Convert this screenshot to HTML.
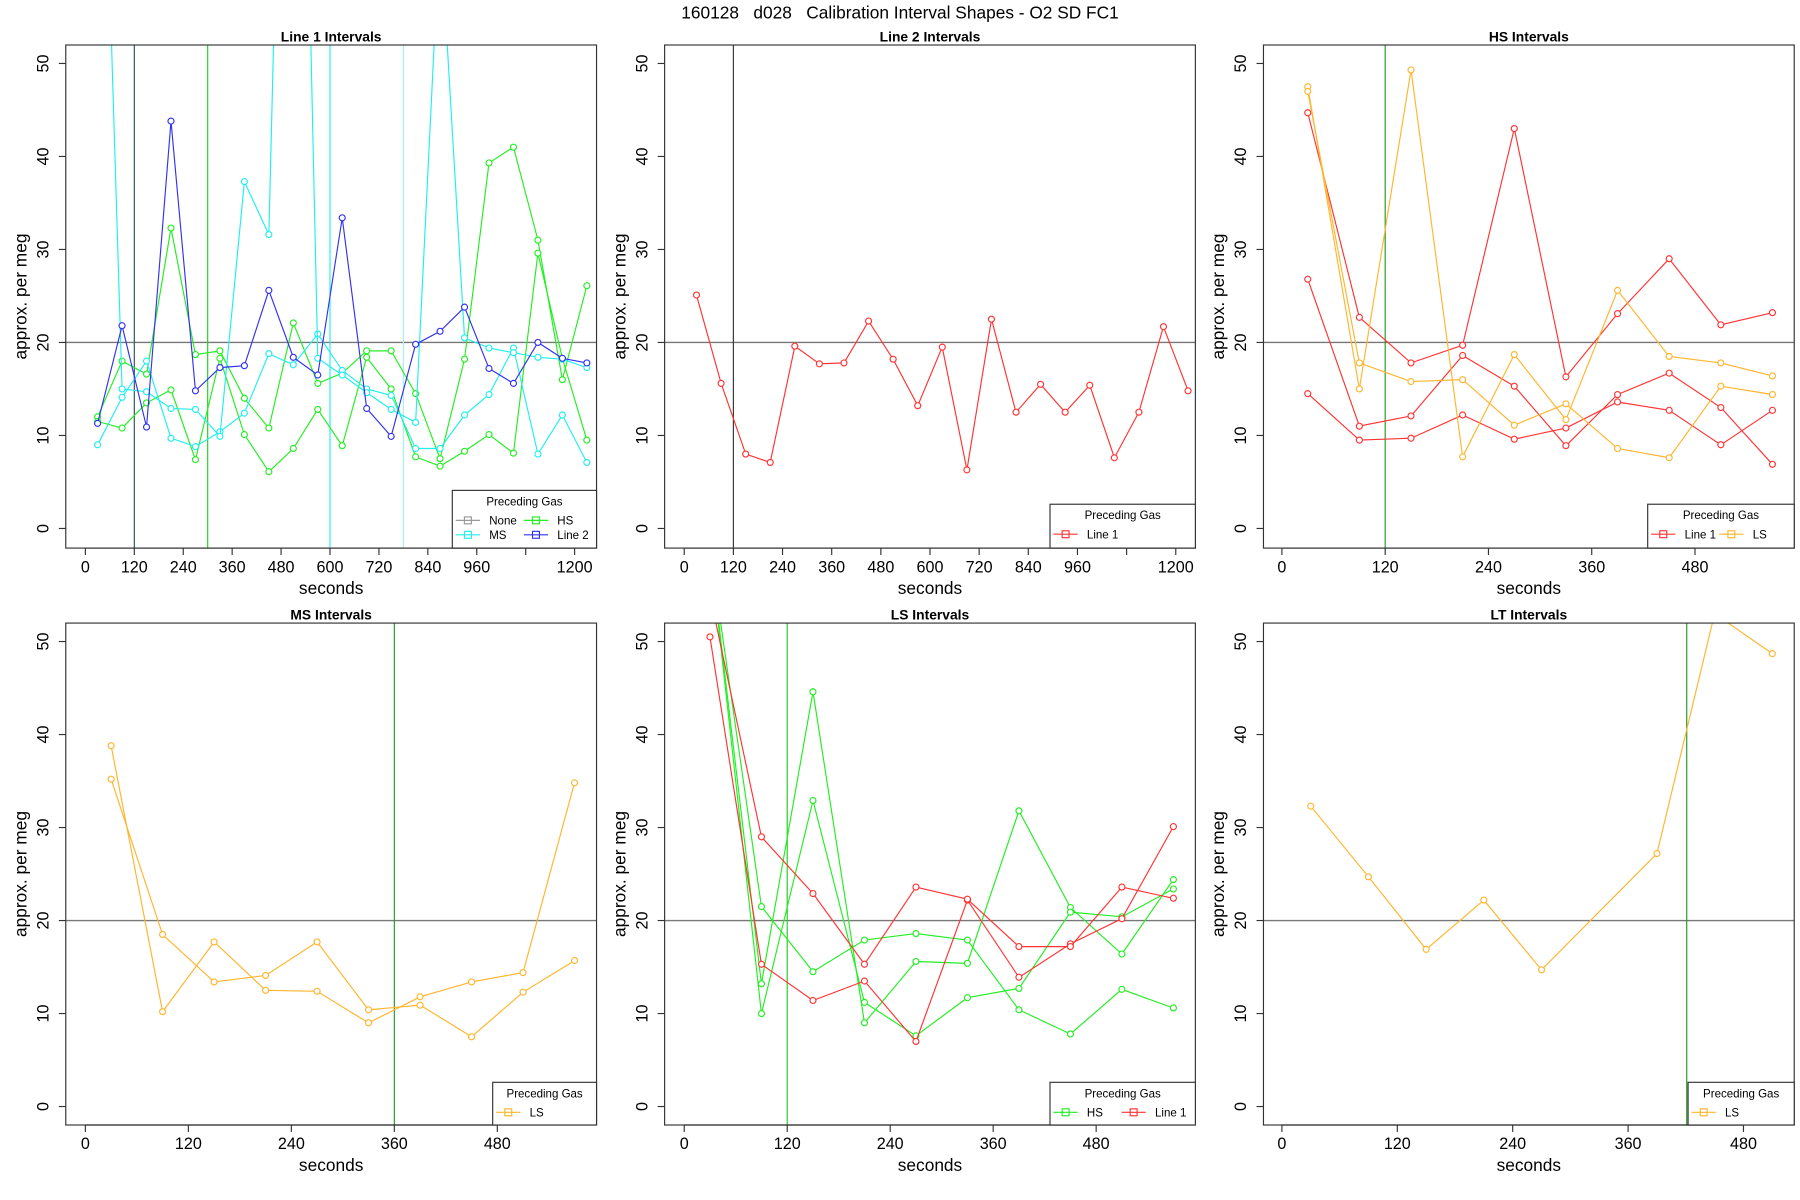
<!DOCTYPE html>
<html><head><meta charset="utf-8"><style>
html,body{margin:0;padding:0;background:#fff}
svg{display:block;font-family:"Liberation Sans",sans-serif}
</style></head><body>
<svg id="chart" width="1800" height="1200" viewBox="0 0 1560 1040" xmlns="http://www.w3.org/2000/svg">
<text x="780" y="16" text-anchor="middle" font-size="15" style="white-space:pre">160128   d028   Calibration Interval Shapes - O2 SD FC1</text>
</svg>
<script>
// ---------- data ----------
const xLong = [30,90,150,210,270,330,390,450,510,570,630,690,750,810,870,930,990,1050,1110,1170,1230];
const xShort = [30,90,150,210,270,330,390,450,510,570];
const xLT = [30,90,150,210,270,330,390,450,510];
const p1Line2 = [11.3,21.8,10.9,43.8,14.8,17.3,17.5,25.6,18.4,16.5,33.4,12.9,9.9,19.8,21.2,23.8,17.2,15.6,20.0,18.3,17.8];
const p1HsA = [12.0,18.0,16.6,32.3,18.7,19.1,14.0,10.8,22.1,15.6,16.7,19.1,19.1,14.5,7.5,18.2,39.3,41.0,31.0,16.0,26.1];
const p1HsB = [11.5,10.8,13.5,14.9,7.4,18.3,10.1,6.1,8.6,12.8,8.9,18.4,15.0,7.7,6.7,8.3,10.1,8.1,29.6,18.3,9.5];
const p1MsA = [9.0,14.1,18.0,9.7,8.8,10.4,12.4,18.8,17.6,20.9,17.0,15.0,14.3,8.6,8.6,12.2,14.4,19.4,8.0,12.2,7.1];
const p1MsB = [101,15.0,14.7,12.9,12.8,9.9,37.3,31.6,138,18.3,16.5,14.6,12.8,11.4,65,20.5,19.4,18.9,18.4,18.2,17.3];
const p2Line1 = [25.1,15.6,8.0,7.1,19.6,17.7,17.8,22.3,18.2,13.2,19.5,6.3,22.5,12.5,15.5,12.5,15.4,7.6,12.5,21.7,14.8];
const p3L1A = [44.7,22.7,17.8,19.7,43.0,16.3,23.1,29.0,21.9,23.2];
const p3L1B = [26.8,11.0,12.1,18.6,15.3,8.9,14.4,16.7,13.0,6.9];
const p3L1C = [14.5,9.5,9.7,12.2,9.6,10.8,13.6,12.7,9.0,12.7];
const p3LsA = [47.5,15.0,49.3,7.7,18.7,11.7,25.6,18.5,17.8,16.4];
const p3LsB = [47.0,17.8,15.8,16.0,11.1,13.4,8.6,7.6,15.3,14.4];
const p4LsA = [38.8,10.2,17.7,12.5,12.4,9.0,11.8,13.4,14.4,34.8];
const p4LsB = [35.2,18.5,13.4,14.1,17.7,10.4,10.9,7.5,12.3,15.7];
const p5HsA = [60,13.2,44.6,9.0,15.6,15.4,31.8,21.4,16.4,24.4];
const p5HsB = [60,21.5,14.5,17.9,18.6,17.9,10.4,7.8,12.6,10.6];
const p5HsC = [60,10.0,32.9,11.2,7.6,11.7,12.7,20.9,20.4,23.4];
const p5L1A = [50.5,15.3,11.4,13.5,7.0,22.2,13.9,17.5,20.2,30.1];
const p5L1B = [55,29.0,22.9,15.3,23.6,22.3,17.2,17.2,23.6,22.4];
const p6Ls = [32.3,24.7,16.9,22.2,14.7,null,27.2,53,48.7];
const yTicks = [0,10,20,30,40,50];
const xTicksLong = [0,120,240,360,480,600,720,840,960,1080,1200];
const xLabelsLong = ["0","120","240","360","480","600","720","840","960","","1200"];
const xTicksShort = [0,120,240,360,480];

const C = {HS:"#22ee22",MS:"#22eeee",L2:"#3333ee",L1:"#ff3333",LS:"#ffb52e",None:"#999999"};
const svg = document.getElementById('chart');
const NS = "http://www.w3.org/2000/svg";
function mk(tag, attrs, parent){const e=document.createElementNS(NS,tag);for(const k in attrs)e.setAttribute(k,attrs[k]);(parent||svg).appendChild(e);return e;}

const panels = [
 {id:"line1",title:"Line 1 Intervals",L:57,R:517,T:39,B:475,x0:74,sx:424/1200,y0:458,xt:xTicksLong,xl:xLabelsLong,
  vlines:[[120,"#2f4f5f"],[300,"#22cc22"],[600,"#22eeee"],[780,"#aaeeee"]],
  series:[[xLong,p1HsA,C.HS],[xLong,p1HsB,C.HS],[xLong,p1MsA,C.MS],[xLong,p1MsB,C.MS],[xLong,p1Line2,C.L2]],
  legend:{x:392,y:425,w:125,h:50,items:[["None",C.None,0,0],["HS",C.HS,1,0],["MS",C.MS,0,1],["Line 2",C.L2,1,1]]}},
 {id:"line2",title:"Line 2 Intervals",L:576,R:1036,T:39,B:475,x0:593,sx:426/1200,y0:458,xt:xTicksLong,xl:xLabelsLong,
  vlines:[[120,"#333333"]],series:[[xLong,p2Line1,C.L1]],
  legend:{x:910,y:437,w:126,h:38,items:[["Line 1",C.L1,0,0]]}},
 {id:"hs",title:"HS Intervals",L:1095,R:1555,T:39,B:475,x0:1111,sx:358/480,y0:458,xt:xTicksShort,xl:null,
  vlines:[[120,"#229922"]],
  series:[[xShort,p3L1A,C.L1],[xShort,p3L1B,C.L1],[xShort,p3L1C,C.L1],[xShort,p3LsA,C.LS],[xShort,p3LsB,C.LS]],
  legend:{x:1428,y:437,w:127,h:38,items:[["Line 1",C.L1,0,0],["LS",C.LS,1,0]]}},
 {id:"ms",title:"MS Intervals",L:57,R:517,T:540,B:975,x0:74,sx:357/480,y0:959,xt:xTicksShort,xl:null,
  vlines:[[360,"#229922"]],series:[[xShort,p4LsA,C.LS],[xShort,p4LsB,C.LS]],
  legend:{x:427,y:938,w:90,h:37,items:[["LS",C.LS,0,0]]}},
 {id:"ls",title:"LS Intervals",L:576,R:1036,T:540,B:975,x0:593,sx:357/480,y0:959,xt:xTicksShort,xl:null,
  vlines:[[120,"#22cc22"]],
  series:[[xShort,p5HsA,C.HS],[xShort,p5HsB,C.HS],[xShort,p5HsC,C.HS],[xShort,p5L1A,C.L1],[xShort,p5L1B,C.L1]],
  legend:{x:910,y:938,w:126,h:37,items:[["HS",C.HS,0,0],["Line 1",C.L1,1,0]]}},
 {id:"lt",title:"LT Intervals",L:1095,R:1555,T:540,B:975,x0:1111,sx:400/480,y0:959,xt:xTicksShort,xl:null,
  vlines:[[421,"#229922"]],series:[[xLT,p6Ls,C.LS]],
  legend:{x:1463,y:938,w:92,h:37,items:[["LS",C.LS,0,0]]}}
];
const SY = 8.06;

panels.forEach((p,pi)=>{
  const g = mk('g',{});
  
  
  const X = v=>p.x0+v*p.sx, Y = v=>p.y0-v*SY;
  const cid='clip'+pi;
  const cp=mk('clipPath',{id:cid},g); mk('rect',{x:p.L,y:p.T,width:p.R-p.L,height:p.B-p.T},cp);
  const t=mk('text',{x:(p.L+p.R)/2,y:p.T-3,'text-anchor':'middle','font-size':12,'font-weight':'bold'},g);
  t.textContent=p.title;
  
  
  const plot=mk('g',{'clip-path':'url(#'+cid+')'},g);
  const h=mk('line',{x1:p.L,x2:p.R,y1:Y(20),y2:Y(20),stroke:'#777','stroke-width':1.2},plot);
  
  
  p.vlines.forEach(v=>{
    const l=mk('line',{x1:X(v[0]),x2:X(v[0]),y1:p.T,y2:p.B,stroke:v[1],'stroke-width':1},plot);
    
    
  });
  p.series.forEach((s,si)=>{
    const xs=s[0], ys=s[1], col=s[2];
    let d='', pen=false;
    ys.forEach((v,i)=>{ if(v===null){return;} d+=(pen?'L':'M')+X(xs[i]).toFixed(1)+' '+Y(v).toFixed(1)+' '; pen=true; });
    const path=mk('path',{d:d,fill:'none',stroke:col,'stroke-width':1},plot);
    
    
    ys.forEach((v,i)=>{ if(v===null)return;
      const c=mk('circle',{cx:X(xs[i]),cy:Y(v),r:2.6,fill:'#fff',stroke:col,'stroke-width':1},plot);
      
      
    });
  });
  const box=mk('rect',{x:p.L,y:p.T,width:p.R-p.L,height:p.B-p.T,fill:'none',stroke:'#333','stroke-width':1},g);
  
  
  yTicks.forEach(v=>{
    mk('line',{x1:p.L-6,x2:p.L,y1:Y(v),y2:Y(v),stroke:'#333'},g);
    const tl=mk('text',{x:p.L-15,y:Y(v),'font-size':14,'text-anchor':'middle',transform:'rotate(-90 '+(p.L-15)+' '+Y(v)+')'},g);
    tl.textContent=v;
    
    
  });
  const yt=mk('text',{x:p.L-34,y:(p.T+p.B)/2,'font-size':15,'text-anchor':'middle',transform:'rotate(-90 '+(p.L-34)+' '+(p.T+p.B)/2+')'},g);
  yt.textContent='approx. per meg';
  
  
  const xt=p.xt;
  mk('line',{x1:X(xt[0]),x2:X(xt[xt.length-1]),y1:p.B,y2:p.B,stroke:'#333'},g);
  xt.forEach((v,i)=>{
    mk('line',{x1:X(v),x2:X(v),y1:p.B,y2:p.B+6,stroke:'#333'},g);
    const lab = p.xl? p.xl[i] : String(v);
    if(lab){ const tl=mk('text',{x:X(v),y:p.B+21,'font-size':14,'text-anchor':'middle'},g); tl.textContent=lab;
      
       }
  });
  const xtt=mk('text',{x:(p.L+p.R)/2,y:p.B+40,'font-size':15,'text-anchor':'middle'},g);
  xtt.textContent='seconds';
  
  
  const lg=p.legend;
  const lgg=mk('g',{},g);
  
  
  mk('rect',{x:lg.x,y:lg.y,width:lg.w,height:lg.h,fill:'#fff',stroke:'#333'},lgg);
  const lt=mk('text',{x:lg.x+lg.w/2,y:lg.y+13,'font-size':10,'text-anchor':'middle'},lgg); lt.textContent='Preceding Gas';
  lg.items.forEach(it=>{
    const ex=lg.x+3+it[2]*59;
    const ey=lg.y+26+it[3]*12.5;
    const e=mk('g',{},lgg);
    
    
    mk('line',{x1:ex,x2:ex+21,y1:ey,y2:ey,stroke:it[1]},e);
    mk('rect',{x:ex+7.5,y:ey-3,width:6,height:6,fill:'none',stroke:it[1]},e);
    const tx=mk('text',{x:ex+29,y:ey+3.5,'font-size':10},e); tx.textContent=it[0];
  });
});
</script>
</body></html>
